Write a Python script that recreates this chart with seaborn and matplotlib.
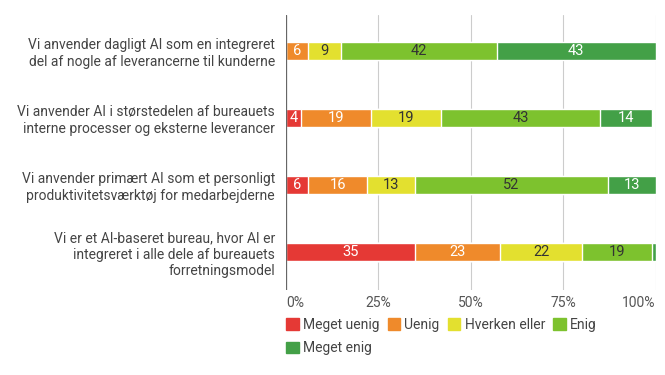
import numpy as np
import pandas as pd
import seaborn as sns
import matplotlib.pyplot as plt
from matplotlib.patches import Patch

# Data
udsagn = [
    "Vi anvender dagligt AI som en integreret\ndel af nogle af leverancerne til kunderne",
    "Vi anvender AI i størstedelen af bureauets\ninterne processer og eksterne leverancer",
    "Vi anvender primært AI som et personligt\nproduktivitetsværktøj for medarbejderne",
    "Vi er et AI-baseret bureau, hvor AI er\nintegreret i alle dele af bureauets\nforretningsmodel",
]
niveauer = ["Meget uenig", "Uenig", "Hverken eller", "Enig", "Meget enig"]
meget_uenig = [0, 4, 6, 35]
uenig = [6, 19, 16, 23]
hverken = [9, 19, 13, 22]
enig = [42, 43, 52, 19]
meget_enig = [43, 14, 13, 1]

farver = ["#E53935", "#EF8A2B", "#E3E02F", "#7DC22E", "#43A047"]
tekstfarver = ["white", "white", "#333333", "#333333", "white"]

sns.set_style("white")
plt.rcParams["font.family"] = ["Roboto", "DejaVu Sans"]

vals = np.array([meget_uenig, uenig, hverken, enig, meget_enig], dtype=float)
cum = vals.cumsum(axis=0)

fig = plt.figure(figsize=(6.65, 3.75), dpi=100)
ax = fig.add_axes([0.430, 0.2267, 0.556, 0.7333])

# stablede søjler: kumulative summer tegnes fra sidste niveau til første
for i in range(len(niveauer) - 1, -1, -1):
    df = pd.DataFrame({"udsagn": udsagn, "værdi": cum[i]})
    sns.barplot(data=df, x="værdi", y="udsagn", color=farver[i], orient="h",
                width=0.26, saturation=1, ax=ax, zorder=3)

# værdietiketter
for i in range(len(niveauer)):
    for j in range(len(udsagn)):
        v = vals[i, j]
        if v >= 3:
            ax.text(cum[i, j] - v / 2, j, f"{int(v)}", ha="center", va="center",
                    fontsize=10.5, color=tekstfarver[i], zorder=4)

ax.set_xlim(0, 100)
ax.set_ylim(3.567, -0.537)
ax.set_xticks([0, 25, 50, 75, 100])
ax.set_xticklabels(["0%", "25%", "50%", "75%", "100%"])
ax.set_xlabel("")
ax.set_ylabel("")
ax.grid(axis="x", color="#CCCCCC", linewidth=0.8, zorder=0)
ax.axvline(0, color="#666666", linewidth=0.9, zorder=5)
for s in ax.spines.values():
    s.set_visible(False)
ax.tick_params(axis="both", length=0, labelsize=10, colors="#555555")
ax.tick_params(axis="x", pad=4)
ax.tick_params(axis="y", pad=8)
xl = ax.get_xticklabels()
xl[0].set_horizontalalignment("left")
xl[-1].set_horizontalalignment("right")
for lbl in ax.get_yticklabels():
    lbl.set_horizontalalignment("right")
    lbl.set_multialignment("right")
    lbl.set_color("#444444")

# legend i rækkefølge række for række (matplotlib udfylder kolonnevis)
orden = [0, 4, 1, 2, 3]
handles = [Patch(facecolor=farver[k], edgecolor=farver[k]) for k in orden]
leg = fig.legend(handles, [niveauer[k] for k in orden], loc="upper left",
                 bbox_to_anchor=(0.422, 0.168), ncol=4, frameon=False,
                 fontsize=10, handlelength=0.9, handleheight=0.9,
                 handletextpad=0.3, columnspacing=0.6, labelspacing=0.7,
                 borderaxespad=0)
for t in leg.get_texts():
    t.set_color("#444444")

fig.savefig("out.png", dpi=100)
